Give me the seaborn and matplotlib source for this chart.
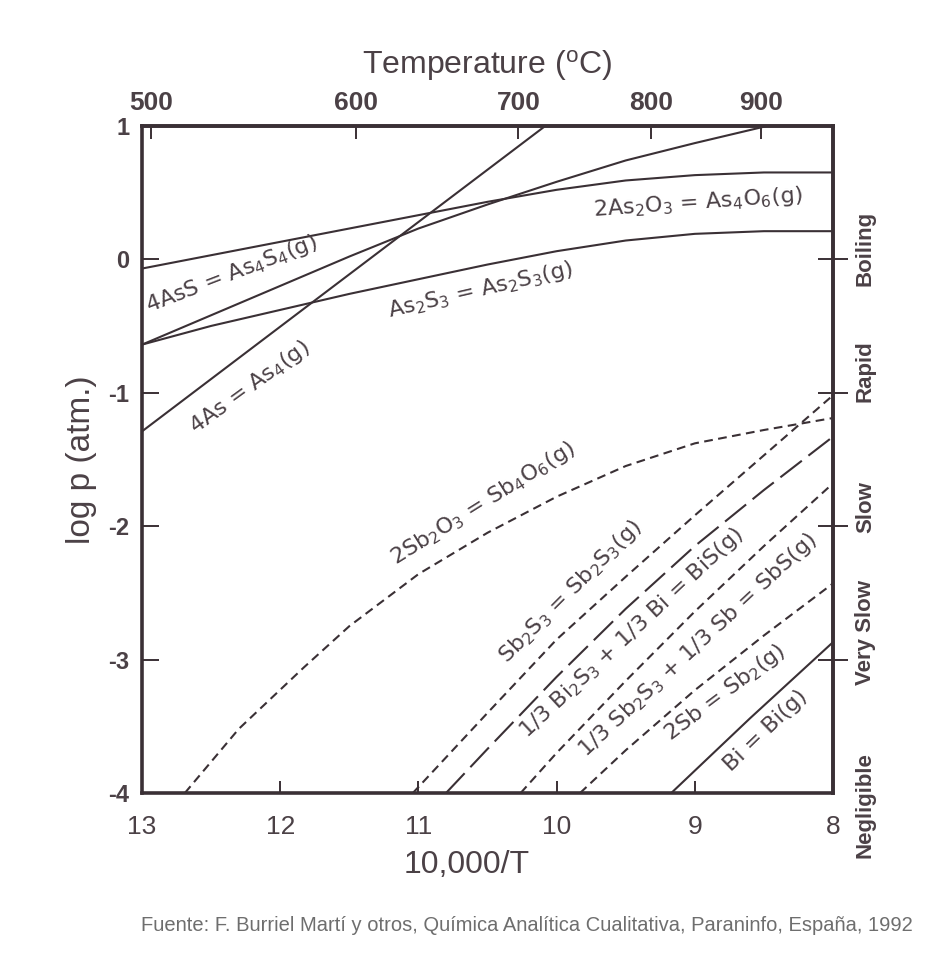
import numpy as np
import pandas as pd
import matplotlib
matplotlib.use("Agg")
import matplotlib.pyplot as plt
import seaborn as sns

# ---------------- data ----------------
x_ticks = [13, 12, 11, 10, 9, 8]
y_ticks = [1, 0, -1, -2, -3, -4]
temp_ticks = [500, 600, 700, 800, 900]
rate_labels = ["Boiling", "Rapid", "Slow", "Very Slow", "Negligible"]
rate_levels = [0.08, -0.84, -1.86, -2.80, -4.09]

# arsenic species (solid lines)
as4_x = [13.0, 11.7, 10.08]
as4_y = [-1.29, -0.27, 1.0]
as4s4_x = [13.0, 12.5, 12.0, 11.5, 11.0, 10.5, 10.0, 9.5, 9.0, 8.47]
as4s4_y = [-0.64, -0.42, -0.20, 0.02, 0.23, 0.41, 0.58, 0.74, 0.87, 1.0]
as4o6_x = [13.0, 12.5, 12.0, 11.5, 11.0, 10.5, 10.0, 9.5, 9.0, 8.5, 8.0]
as4o6_y = [-0.07, 0.03, 0.13, 0.23, 0.33, 0.43, 0.52, 0.59, 0.63, 0.65, 0.65]
as2s3_x = [13.0, 12.5, 12.0, 11.5, 11.0, 10.5, 10.0, 9.5, 9.0, 8.5, 8.0]
as2s3_y = [-0.64, -0.50, -0.38, -0.26, -0.15, -0.04, 0.06, 0.14, 0.19, 0.21, 0.21]

# antimony / bismuth species
sb4o6_x = [12.69, 12.3, 11.83, 11.5, 11.0, 10.5, 10.0, 9.5, 9.0, 8.5, 8.0]
sb4o6_y = [-4.0, -3.52, -3.06, -2.75, -2.36, -2.05, -1.78, -1.55, -1.38, -1.28, -1.19]
sb2s3_x = [11.04, 10.5, 10.0, 9.5, 9.0, 8.5, 8.0]
sb2s3_y = [-4.0, -3.40, -2.85, -2.38, -1.92, -1.47, -1.02]
bis_x = [10.8, 10.5, 10.0, 9.5, 9.0, 8.5, 8.0]
bis_y = [-4.0, -3.67, -3.13, -2.62, -2.15, -1.73, -1.33]
sbs_x = [10.26, 10.0, 9.5, 9.0, 8.5, 8.0]
sbs_y = [-4.0, -3.70, -3.16, -2.64, -2.15, -1.68]
sb2_x = [9.83, 9.5, 9.0, 8.5, 8.0]
sb2_y = [-4.0, -3.68, -3.23, -2.82, -2.43]
bi_x = [9.17, 8.6, 8.0]
bi_y = [-4.0, -3.44, -2.87]

series = [
    ("As4", as4_x, as4_y, "solid"),
    ("As4S4", as4s4_x, as4s4_y, "solid"),
    ("As4O6", as4o6_x, as4o6_y, "solid"),
    ("As2S3", as2s3_x, as2s3_y, "solid"),
    ("Sb4O6", sb4o6_x, sb4o6_y, "short"),
    ("Sb2S3", sb2s3_x, sb2s3_y, "short"),
    ("BiS", bis_x, bis_y, "long"),
    ("SbS", sbs_x, sbs_y, "short"),
    ("Sb2", sb2_x, sb2_y, "short"),
    ("Bi", bi_x, bi_y, "solid"),
]

frames = []
for name, xs, ys, kind in series:
    frames.append(pd.DataFrame({"x": xs, "y": ys, "curve": name, "kind": kind}))
df = pd.concat(frames, ignore_index=True)

# curve labels: text, x, y, rotation
curve_labels = [
    ("4AsS = As$_4$S$_4$(g)", 12.35, -0.11, 21),
    ("4As = As$_4$(g)", 12.22, -0.96, 36),
    ("As$_2$S$_3$ = As$_2$S$_3$(g)", 10.55, -0.23, 13),
    ("2As$_2$O$_3$ = As$_4$O$_6$(g)", 8.98, 0.42, 4),
    ("2Sb$_2$O$_3$ = Sb$_4$O$_6$(g)", 10.53, -1.83, 32),
    ("Sb$_2$S$_3$ = Sb$_2$S$_3$(g)", 9.90, -2.49, 45),
    ("1/3 Bi$_2$S$_3$ + 1/3 Bi = BiS(g)", 9.46, -2.80, 43),
    ("1/3 Sb$_2$S$_3$ + 1/3 Sb = SbS(g)", 8.98, -2.89, 43),
    ("2Sb = Sb$_2$(g)", 8.78, -3.25, 37),
    ("Bi = Bi(g)", 8.49, -3.53, 44),
]

# ---------------- styling ----------------
sns.set_theme(style="ticks")
plt.rcParams["font.family"] = ["Liberation Sans", "DejaVu Sans"]
plt.rcParams["mathtext.default"] = "regular"

line_c = "#3a3035"
text_c = "#4b4146"

fig = plt.figure(figsize=(9.37, 9.60), dpi=100)
fig.patch.set_facecolor("white")
ax = fig.add_axes([0.1516, 0.174, 0.889 - 0.1516, 0.869 - 0.174])

sns.lineplot(
    data=df, x="x", y="y", units="curve", estimator=None, style="kind",
    dashes={"solid": "", "short": (4.2, 2.6), "long": (13, 4)},
    color=line_c, linewidth=1.5, sort=False, legend=False, ax=ax,
)

ax.set_xlim(13, 8)
ax.set_ylim(-4, 1)
ax.set_xticks(x_ticks)
ax.set_xticklabels([str(v) for v in x_ticks], fontsize=19, color=text_c)
ax.set_yticks(y_ticks)
ax.set_yticklabels([str(v) for v in y_ticks], fontsize=17, fontweight="bold", color=text_c)
ax.tick_params(axis="x", direction="in", length=9, width=1.4, color=line_c, pad=16)
ax.tick_params(axis="y", direction="in", length=12, width=1.4, color=line_c, pad=9)
for s in ax.spines.values():
    s.set_linewidth(2.6)
    s.set_color(line_c)

ax.set_xlabel("10,000/T", fontsize=23, color=text_c, labelpad=2)
ax.xaxis.set_label_coords(0.47, -0.085)
ax.set_ylabel("log p (atm.)", fontsize=24, color=text_c, labelpad=8)


def k2c(x):
    x = np.asarray(x, dtype=float)
    with np.errstate(divide="ignore", invalid="ignore"):
        return 10000.0 / x - 273.15


def c2k(t):
    t = np.asarray(t, dtype=float)
    with np.errstate(divide="ignore", invalid="ignore"):
        return 10000.0 / (t + 273.15)


top = ax.secondary_xaxis("top", functions=(k2c, c2k))
top.set_xticks(temp_ticks)
top.set_xticklabels([str(v) for v in temp_ticks], fontsize=19, fontweight="bold", color=text_c)
top.tick_params(direction="in", length=9, width=1.4, color=line_c, pad=8)
top.spines["top"].set_linewidth(2.6)
top.spines["top"].set_color(line_c)
top.set_xlabel("Temperature ($^o$C)", fontsize=23, color=text_c, labelpad=12)

right = ax.secondary_yaxis("right")
right.set_yticks([0, -1, -2, -3])
right.tick_params(direction="inout", length=22, width=1.4, color=line_c, labelright=False)
right.spines["right"].set_linewidth(2.6)
right.spines["right"].set_color(line_c)

tr = matplotlib.transforms.blended_transform_factory(ax.transAxes, ax.transData)
for lab, lev in zip(rate_labels, rate_levels):
    ax.text(1.047, lev, lab, transform=tr, rotation=90, ha="center", va="center",
            fontsize=16, fontweight="bold", color=text_c, clip_on=False)

for txt, x, y, rot in curve_labels:
    ax.text(x, y, txt, rotation=rot, ha="center", va="center", fontsize=16,
            color=text_c, family=["DejaVu Sans"], rotation_mode="anchor")

fig.text(0.562, 0.036, "Fuente: F. Burriel Martí y otros, Química Analítica Cualitativa, Paraninfo, España, 1992",
         ha="center", va="center", fontsize=14.5, color="#6e6e6e")

fig.savefig("out.png", dpi=100, facecolor=fig.get_facecolor())
